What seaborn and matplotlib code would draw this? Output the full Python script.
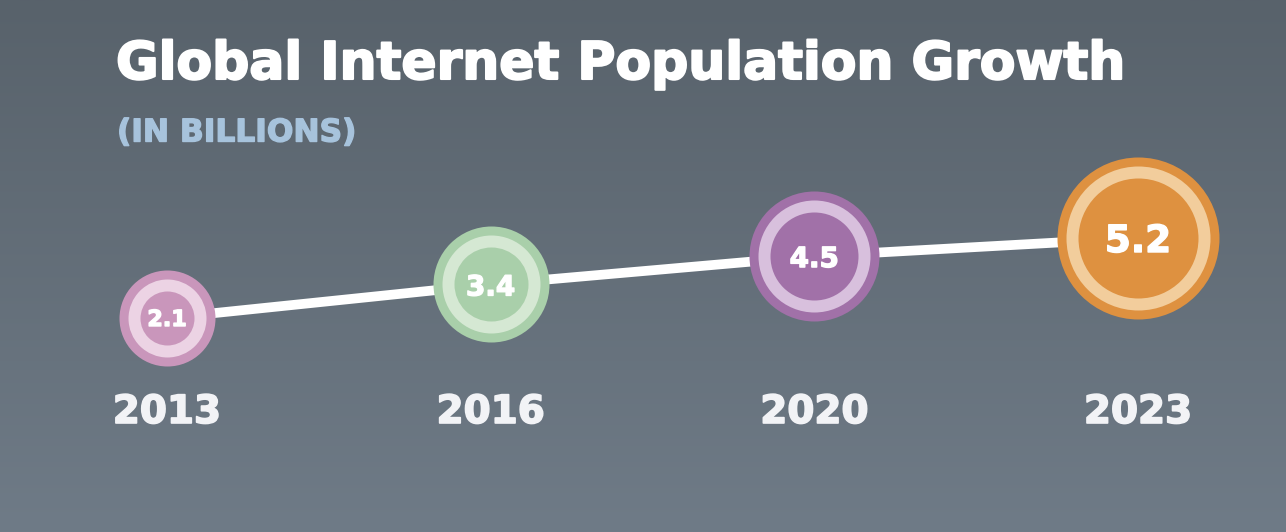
import matplotlib.pyplot as plt
import matplotlib.colors as mcolors
import matplotlib.patheffects as pe
import numpy as np
import pandas as pd
import seaborn as sns

# Data
years = ["2013", "2016", "2020", "2023"]
users = [2.1, 3.4, 4.5, 5.2]  # billions

# Styles
outer_colors = ["#c996bb", "#a9cfaa", "#a171a8", "#de9140"]
ring_colors = ["#ecd3e4", "#d5e8d3", "#d8c0dd", "#f2cd9c"]
radius_px = [48, 58, 65, 81]
label_sizes = [16, 20, 20, 27]

sns.set_style("white")
plt.rcParams["font.family"] = ["DejaVu Sans"]

W, H, DPI = 1286, 532, 100
fig = plt.figure(figsize=(W / DPI, H / DPI), dpi=DPI)

# gradient background
bg = fig.add_axes([0, 0, 1, 1])
cmap = mcolors.LinearSegmentedColormap.from_list("bg", ["#58626b", "#6f7b87"])
bg.imshow(np.linspace(0, 1, 256).reshape(-1, 1), aspect="auto", cmap=cmap,
          extent=[0, 1, 0, 1], origin="upper")
bg.axis("off")

ax = fig.add_axes([0, 0, 1, 1])
ax.patch.set_alpha(0)
df = pd.DataFrame({"pos": np.arange(len(years)), "value": users})

# pixel mapping: spacing ~324 px per category, ~25.8 px per billion
px_x, px_y = 323.7, 25.8
x0, y0 = 167, 532 - 318
ax.set_xlim(-x0 / px_x, (W - x0) / px_x)
ax.set_ylim(users[0] - y0 / px_y, users[0] + (H - y0) / px_y)
ax.axis("off")

sns.lineplot(data=df, x="pos", y="value", ax=ax, color="white", linewidth=7,
             solid_capstyle="butt", zorder=2)

def s_of(r):
    return (2 * r * 72 / DPI) ** 2

def heavy(color, w=1.2):
    # thicken glyphs a little to get closer to the heavy display font
    return [pe.withStroke(linewidth=w, foreground=color)]

for i, (v, r) in enumerate(zip(users, radius_px)):
    ax.scatter(i, v, s=s_of(r), color=outer_colors[i], linewidths=0, zorder=3)
    ax.scatter(i, v, s=s_of(r - 9), color=ring_colors[i], linewidths=0, zorder=4)
    ax.scatter(i, v, s=s_of(r - 21), color=outer_colors[i], linewidths=0, zorder=5)
    ax.text(i, v, f"{v:.1f}", ha="center", va="center_baseline", color="white",
            fontsize=label_sizes[i], fontweight="bold", zorder=6,
            path_effects=heavy("white", 1.0))
    ax.text(i, users[0] - (412 - 318) / px_y, years[i], ha="center", va="center",
            color="#f2f3f6", fontsize=28, fontweight="bold", zorder=6,
            path_effects=heavy("#f2f3f6", 1.2))

fig.text(116 / W, 1 - 65 / H, "Global Internet Population Growth", ha="left",
         va="center", color="white", fontsize=37.4, fontweight="bold",
         path_effects=heavy("white", 1.5))
fig.text(117 / W, 1 - 133 / H, "(IN BILLIONS)", ha="left", va="center",
         color="#a7c3dc", fontsize=22.5, fontweight="bold",
         path_effects=heavy("#a7c3dc", 1.0))

fig.savefig("out.png", dpi=DPI)
